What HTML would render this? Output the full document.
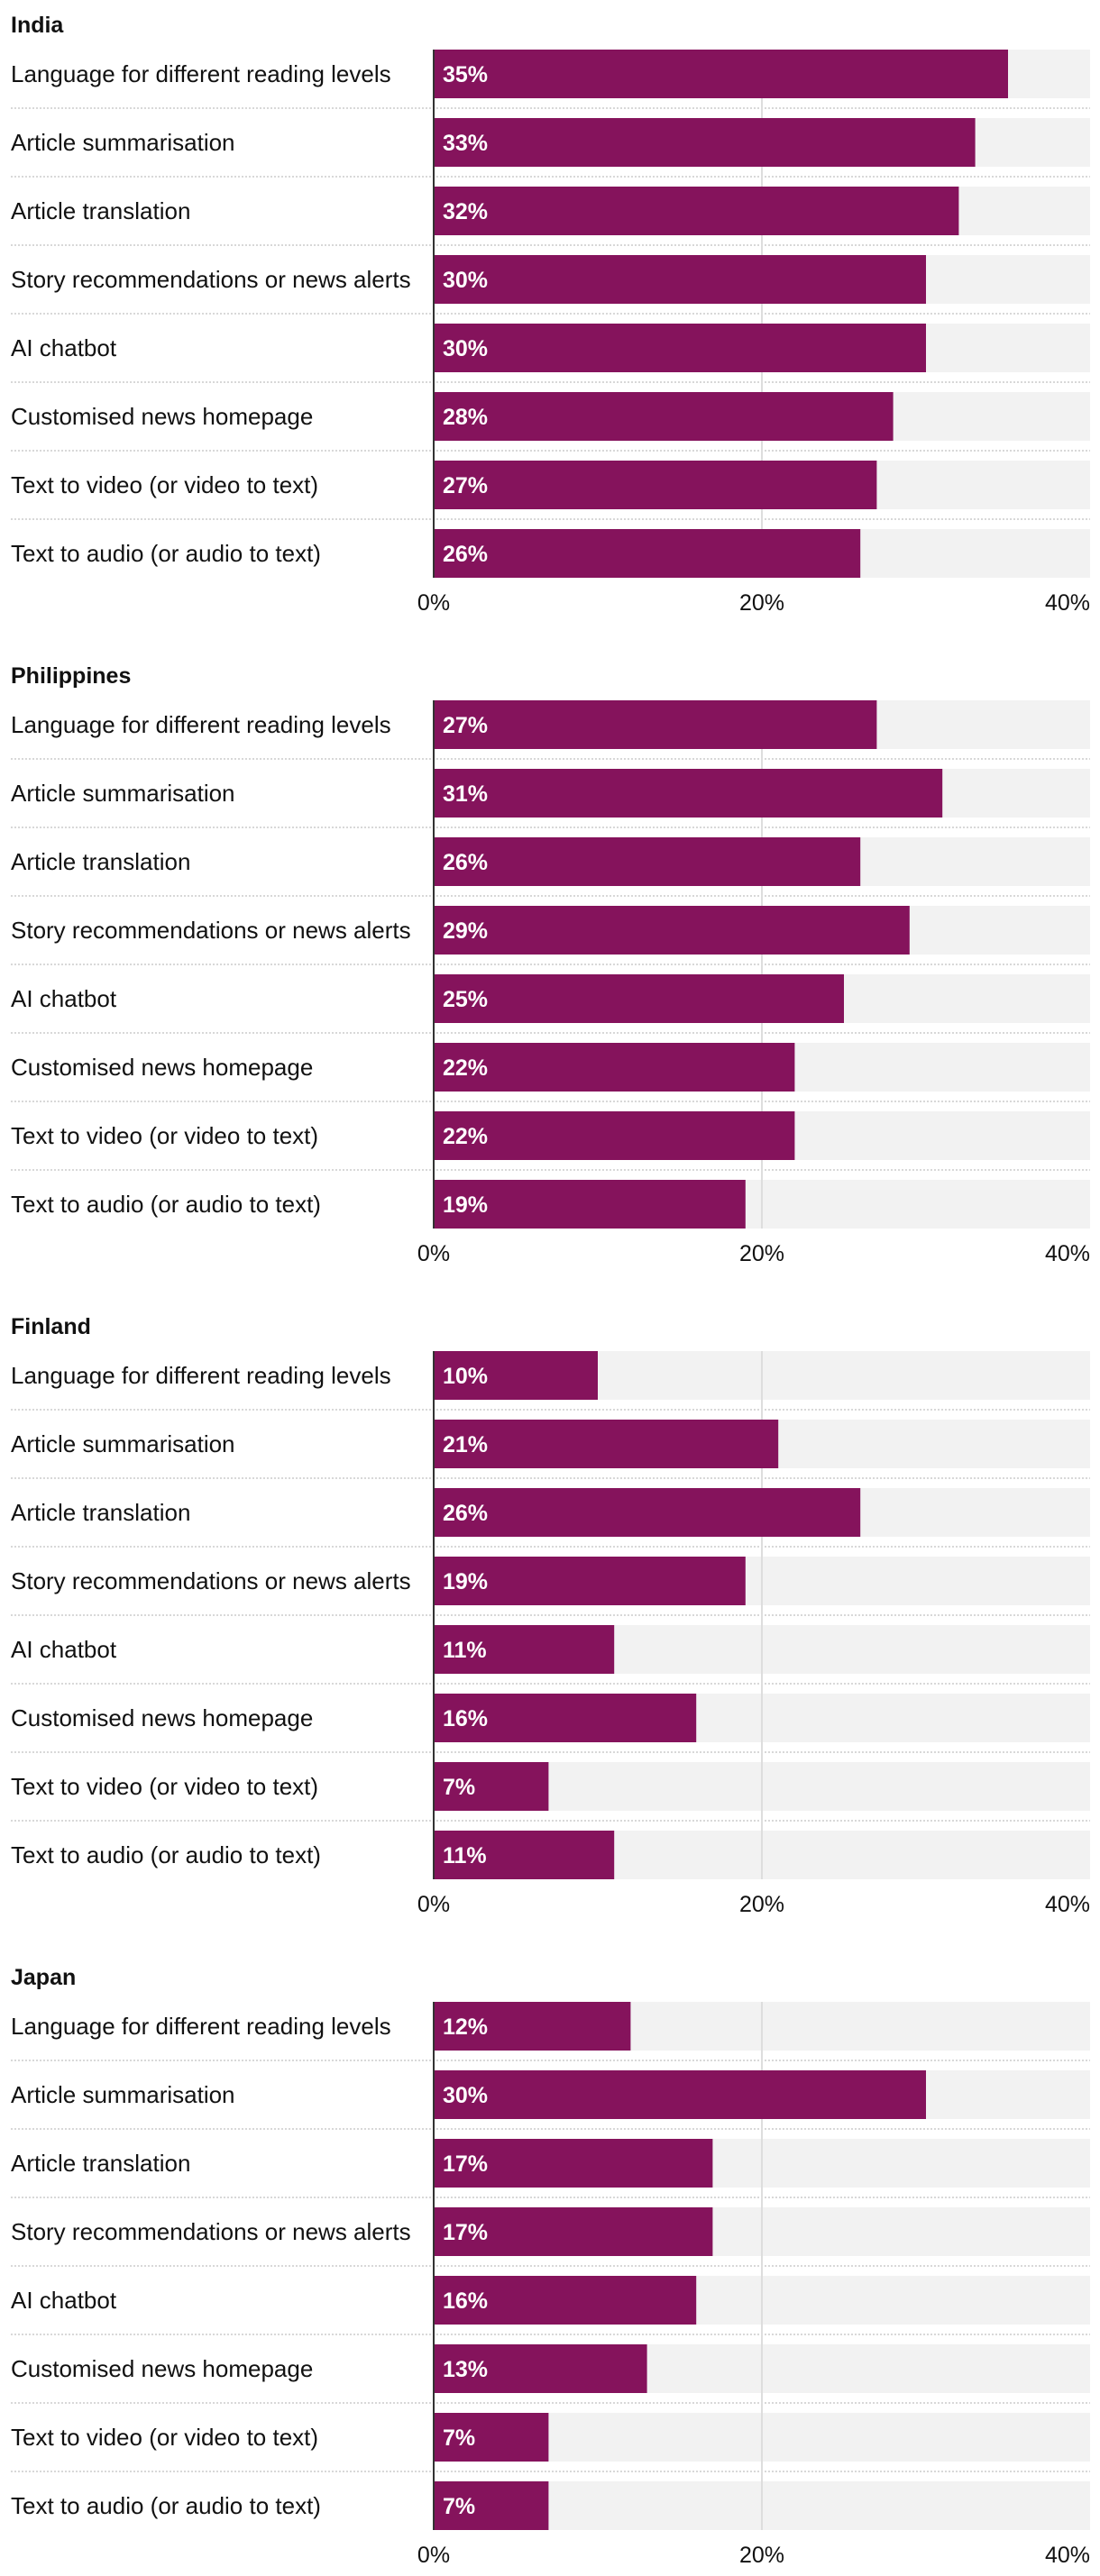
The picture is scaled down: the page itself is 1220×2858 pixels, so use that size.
<!DOCTYPE html>
<html><head><meta charset="utf-8"><style>
html,body{margin:0;padding:0;background:#fff;}
svg{display:block;font-family:"Liberation Sans",sans-serif;}
</style></head><body>
<svg id="chart" width="1220" height="2858" viewBox="0 0 1220 2858" xmlns="http://www.w3.org/2000/svg"></svg>
<script>
const countries = ["India","Philippines","Finland","Japan"];
const categories = ["Language for different reading levels","Article summarisation","Article translation","Story recommendations or news alerts","AI chatbot","Customised news homepage","Text to video (or video to text)","Text to audio (or audio to text)"];
const indiaValues = [35,33,32,30,30,28,27,26];
const philippinesValues = [27,31,26,29,25,22,22,19];
const finlandValues = [10,21,26,19,11,16,7,11];
const japanValues = [12,30,17,17,16,13,7,7];
const tickValues = [0,20,40];
const tickLabels = ["0%","20%","40%"];

const seriesList = [indiaValues, philippinesValues, finlandValues, japanValues];
const svg = document.getElementById('chart');
const NS = "http://www.w3.org/2000/svg";
const X0 = 481, X40 = 1209;
function xScale(v){ return X0 + (X40 - X0) * v / 40; }
const panelTop0 = 55, panelPitch = 722, rowPitch = 76, barH = 54;
function mk(tag, attrs, parent){
  const e = document.createElementNS(NS, tag);
  for (const k in attrs) e.setAttribute(k, attrs[k]);
  (parent||svg).appendChild(e);
  return e;
}
countries.forEach((c, p) => {
  const top = panelTop0 + p * panelPitch;
  const g = mk('g', {});
  
  
  const t = mk('text', {x: 12, y: top - 19, 'font-size': 25, 'font-weight': 'bold', fill: '#111'}, g);
  t.textContent = c;
  
  
  const vals = seriesList[p];
  categories.forEach((cat, i) => {
    const y = top + i * rowPitch;
    const bg = mk('rect', {x: X0, y: y, width: X40 - X0, height: barH, fill: '#f2f2f2'}, g);
    
    
    if (i < categories.length - 1) {
      const sep = mk('line', {x1: 12, x2: X40, y1: y + barH + 11, y2: y + barH + 11, stroke: '#ccc', 'stroke-width': 1.5, 'stroke-dasharray': '2,2'}, g);
      
      
    }
  });
  const gl = mk('line', {x1: xScale(20), x2: xScale(20), y1: top, y2: top + 7 * rowPitch + barH, stroke: '#ddd', 'stroke-width': 2}, g);
  
  
  categories.forEach((cat, i) => {
    const y = top + i * rowPitch;
    const lbl = mk('text', {x: 12, y: y + barH/2 + 9, 'font-size': 26, fill: '#111'}, g);
    lbl.textContent = cat;
    
    
    const bar = mk('rect', {x: X0, y: y, width: xScale(vals[i]) - X0, height: barH, fill: '#85135c'}, g);
    
    
    const vl = mk('text', {x: X0 + 10, y: y + barH/2 + 9, 'font-size': 25, 'font-weight': 'bold', fill: '#fff'}, g);
    vl.textContent = vals[i] + '%';
    
    
  });
  const ax = mk('line', {x1: X0, x2: X0, y1: top, y2: top + 7 * rowPitch + barH, stroke: '#333', 'stroke-width': 2}, g);
  
  
  tickValues.forEach((tv, k) => {
    const last = k === tickValues.length - 1;
    const tx = mk('text', {x: last ? X40 : xScale(tv), y: top + 7 * rowPitch + barH + 36, 'font-size': 25, fill: '#111', 'text-anchor': last ? 'end' : 'middle'}, g);
    tx.textContent = tickLabels[k];
    
    
  });
});
</script>
</body></html>
